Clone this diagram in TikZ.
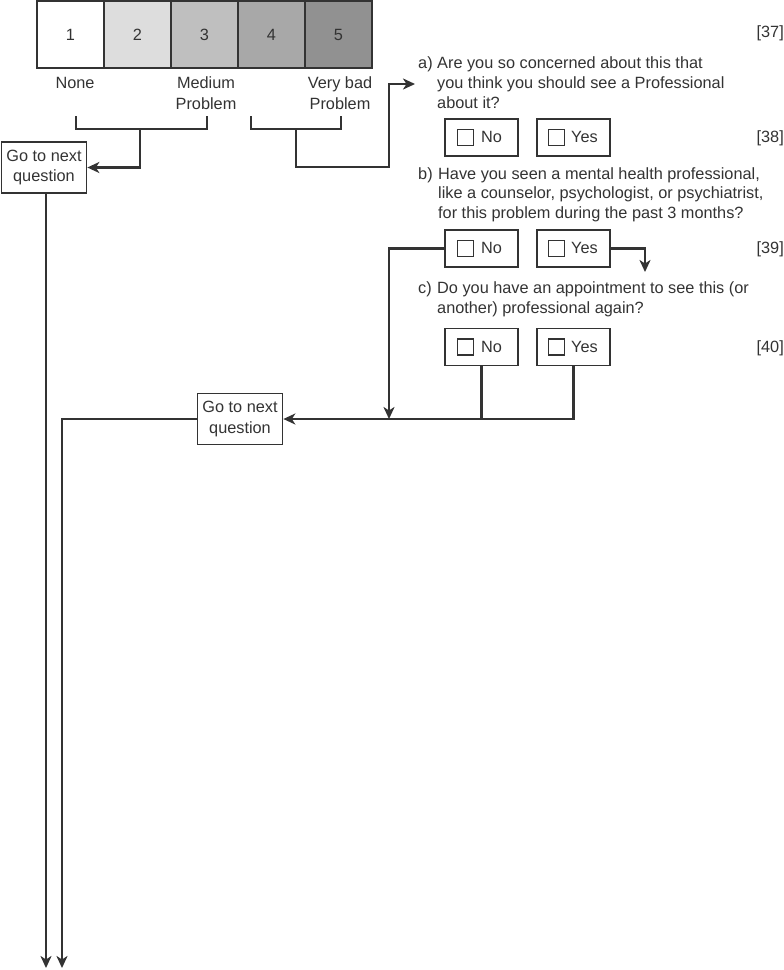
\documentclass[tikz,border=0pt]{standalone}
\usepackage{fontspec}
\setmainfont{Liberation Sans}
\usetikzlibrary{arrows.meta}
\definecolor{ink}{HTML}{333333}
\definecolor{gtwo}{HTML}{DDDDDD}
\definecolor{gthree}{HTML}{BFBFBF}
\definecolor{gfour}{HTML}{A8A8A8}
\definecolor{gfive}{HTML}{919191}
\begin{document}
\begin{tikzpicture}[x=1pt,y=-1pt,
  txt/.style={font=\fontsize{16.3}{20}\selectfont, text=ink, inner sep=0pt},
  scalebox/.style={draw=ink, line width=1.7pt, minimum width=67pt, minimum height=67pt, inner sep=0pt, font=\fontsize{16.3}{20}\selectfont, text=ink},
  optbox/.style={draw=ink, line width=1.8pt, minimum width=73pt, minimum height=37pt, inner sep=0pt},
  sqbox/.style={draw=ink, line width=1.1pt, minimum size=16pt, inner sep=0pt},
  gobox/.style={draw=ink, line width=1.7pt, minimum width=85pt, minimum height=51pt, inner sep=0pt, align=center, font=\fontsize{16.3}{20.5}\selectfont, text=ink},
  conn/.style={draw=ink, line width=2.5pt},
  arr/.style={conn, -{Stealth[length=12pt,width=11pt,inset=3.5pt]}}]
\useasboundingbox (0,0) rectangle (784,970);

% rating scale
\node[scalebox, fill=white] (s1) at (70.5,34.5) {1};
\node[scalebox, fill=gtwo] (s2) at (137.5,34.5) {2};
\node[scalebox, fill=gthree] (s3) at (204.5,34.5) {3};
\node[scalebox, fill=gfour] (s4) at (271.5,34.5) {4};
\node[scalebox, fill=gfive] (s5) at (338.5,34.5) {5};

\node[txt, anchor=base] (none) at (75,88) {None};
\node[txt, anchor=base] (meda) at (206,88) {Medium};
\node[txt, anchor=base] (medb) at (206,109) {Problem};
\node[txt, anchor=base] (vba) at (340,88) {Very bad};
\node[txt, anchor=base] (vbb) at (340,109) {Problem};

% question texts
\node[txt, anchor=base east] (n37) at (784,37) {[37]};
\node[txt, anchor=base west] (qa) at (418,68) {a)};
\node[txt, anchor=base west] (qaa) at (437,68) {Are you so concerned about this that};
\node[txt, anchor=base west] (qab) at (437,88) {you think you should see a Professional};
\node[txt, anchor=base west] (qac) at (437,108) {about it?};
\node[txt, anchor=base east] (n38) at (784,142) {[38]};
\node[txt, anchor=base west] (qb) at (418,179) {b)};
\node[txt, anchor=base west] (qba) at (438,179) {Have you seen a mental health professional,};
\node[txt, anchor=base west] (qbb) at (438,198) {like a counselor, psychologist, or psychiatrist,};
\node[txt, anchor=base west] (qbc) at (438,218) {for this problem during the past 3 months?};
\node[txt, anchor=base east] (n39) at (784,253) {[39]};
\node[txt, anchor=base west] (qc) at (418,293) {c)};
\node[txt, anchor=base west] (qca) at (437,293) {Do you have an appointment to see this (or};
\node[txt, anchor=base west] (qcb) at (437,313) {another) professional again?};
\node[txt, anchor=base east] (n40) at (784,352) {[40]};

% answer boxes
\node[optbox] (noa) at (481.5,137.5) {};
\node[optbox] (yesa) at (573.5,137.5) {};
\node[sqbox] (sqnoa) at (465.5,137.5) {};
\node[sqbox] (sqyesa) at (556.5,137.5) {};
\node[txt, anchor=base west] (tnoa) at (481,142) {No};
\node[txt, anchor=base west] (tyesa) at (571,142) {Yes};

\node[optbox] (nob) at (481.5,248.5) {};
\node[optbox] (yesb) at (573.5,248.5) {};
\node[sqbox] (sqnob) at (465.5,248.5) {};
\node[sqbox] (sqyesb) at (556.5,248.5) {};
\node[txt, anchor=base west] (tnob) at (481,253) {No};
\node[txt, anchor=base west] (tyesb) at (571,253) {Yes};

\node[optbox] (noc) at (481.5,347) {};
\node[optbox] (yesc) at (573.5,347) {};
\node[sqbox] (sqnoc) at (465.5,347) {};
\node[sqbox] (sqyesc) at (556.5,347) {};
\node[txt, anchor=base west] (tnoc) at (481,352) {No};
\node[txt, anchor=base west] (tyesc) at (571,352) {Yes};

% go-to boxes
\node[gobox] (goa) at (44,167.5) {Go to next\\question};
\node[gobox] (gob) at (240,419) {Go to next\\question};

% brackets
\coordinate (lba) at (76,116);
\coordinate (lbb) at (207,116);
\coordinate (lbm) at (140,129);
\draw[conn] (lba) -- (76,129) -- (207,129) -- (lbb);
\draw[arr] (lbm) |- (goa.east);

\coordinate (rba) at (251,116);
\coordinate (rbb) at (341,116);
\coordinate (rbm) at (296,129);
\coordinate (qtip) at (415,84);
\draw[conn] (rba) -- (251,129) -- (341,129) -- (rbb);
\draw[arr] (rbm) |- (389,167) |- (qtip);

% question b / c connectors
\coordinate (ybtip) at (645,272);
\draw[arr] (yesb.east) -| (ybtip);
\coordinate (nbtip) at (389,419);
\draw[arr] (nob.west) -| (nbtip);
\draw[conn] (noc.south) -- (noc.south |- gob.east);
\draw[arr] (yesc.south) |- (gob.east);

% long arrows down
\coordinate (ta) at (46,968);
\coordinate (tb) at (62,968);
\draw[arr] (goa.south -| ta) -- (ta);
\draw[arr] (gob.west) -| (tb);
\end{tikzpicture}
\end{document}
